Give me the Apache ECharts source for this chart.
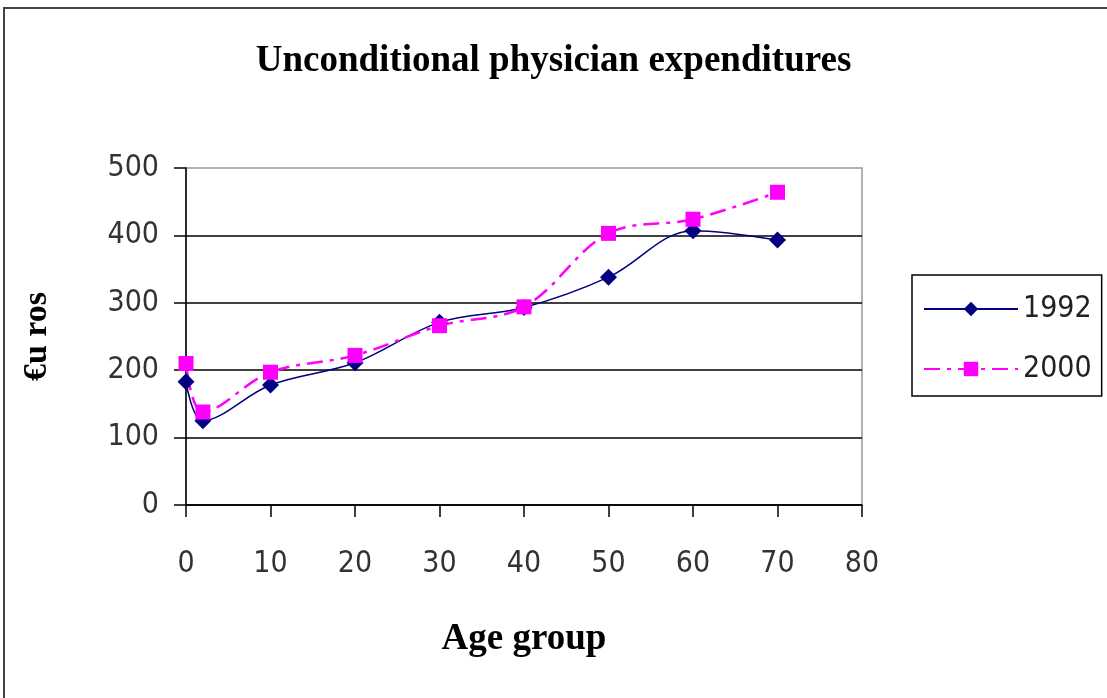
<!DOCTYPE html>
<html>
<head>
<meta charset="utf-8">
<script src="https://cdn.jsdelivr.net/npm/echarts@6/dist/echarts.min.js"></script>
<style>html,body{margin:0;padding:0;background:#fff;}#c{width:1107px;height:698px;}</style>
</head>
<body>
<div id="c"></div>
<script>
const ages = [0, 2, 10, 20, 30, 40, 50, 60, 70];
const v1992 = [183, 125, 178, 211, 271, 293, 338, 407, 393];
const v2000 = [210, 138, 197, 222, 266, 294, 403, 424, 464];
const xTicks = [0, 80, 10];
const yTicks = [0, 500, 100];

const chart = echarts.init(document.getElementById('c'));
const lblFont = "'DejaVu Sans Condensed', Roboto, sans-serif";
const lbl = {fontFamily: lblFont, fontWeight: 300, fontSize: 30, color: '#333'};
chart.setOption({
  animation: false,
  title: {
    text: 'Unconditional physician expenditures',
    left: 'center', top: 38,
    textStyle: {fontFamily: 'Liberation Serif', fontWeight: 'bold', fontSize: 37, color: '#000'}
  },
  graphic: [{type: 'rect', shape: {x: 4, y: 8, width: 1200, height: 800}, style: {fill: 'none', stroke: '#444', lineWidth: 2}, silent: true}],
  grid: {left: 186, right: 245, top: 168, bottom: 193, show: true, borderColor: '#999', borderWidth: 1.5, backgroundColor: 'transparent'},
  legend: {
    orient: 'vertical', left: 912, top: 275,
    padding: [17, 10, 10, 11],
    borderColor: '#000', borderWidth: 1.5,
    itemWidth: 94, itemHeight: 18, itemGap: 26,
    textStyle: {fontFamily: lblFont, fontWeight: 300, fontSize: 30, color: '#222', lineHeight: 34},
    data: ['1992', '2000']
  },
  xAxis: {
    type: 'value', min: xTicks[0], max: xTicks[1], interval: xTicks[2],
    name: 'Age group', nameLocation: 'middle', nameGap: 116,
    nameTextStyle: {fontFamily: 'Liberation Serif', fontWeight: 'bold', fontSize: 37, color: '#000'},
    axisLine: {lineStyle: {color: '#000', width: 1.5}},
    axisTick: {show: true, length: 12, lineStyle: {color: '#000', width: 1.5}},
    axisLabel: Object.assign({margin: 44}, lbl),
    splitLine: {show: false}
  },
  yAxis: {
    type: 'value', min: yTicks[0], max: yTicks[1], interval: yTicks[2],
    name: '€u ros', nameLocation: 'middle', nameGap: 132, nameRotate: 90,
    nameTextStyle: {fontFamily: 'Liberation Serif', fontWeight: 'bold', fontSize: 34, color: '#000'},
    axisLine: {show: true, lineStyle: {color: '#000', width: 1.5}},
    axisTick: {show: true, length: 12, lineStyle: {color: '#000', width: 1.5}},
    axisLabel: Object.assign({margin: 27}, lbl),
    splitLine: {show: true, showMaxLine: false, lineStyle: {color: '#000', width: 1.5}}
  },
  series: [
    {
      name: '1992', type: 'line', smooth: 0.35,
      data: ages.map((a, i) => [a, v1992[i]]),
      symbol: 'diamond', symbolSize: 17,
      itemStyle: {color: '#000080'},
      lineStyle: {color: '#000080', width: 1.5}
    },
    {
      name: '2000', type: 'line', smooth: 0.35,
      data: ages.map((a, i) => [a, v2000[i]]),
      symbol: 'rect', symbolSize: 15,
      itemStyle: {color: '#ff00ff'},
      lineStyle: {color: '#ff00ff', width: 2.5, type: [16, 7, 4, 7]}
    }
  ]
});
</script>
</body>
</html>
